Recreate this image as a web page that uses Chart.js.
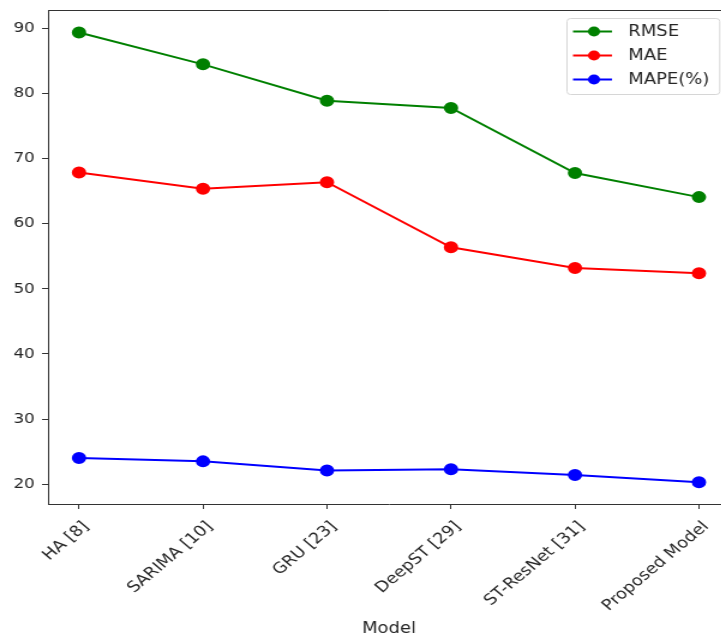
<!DOCTYPE html>
<html>
<head>
<meta charset="utf-8">
<script src="https://cdn.jsdelivr.net/npm/chart.js@4.4.1/dist/chart.umd.min.js"></script>
<style>
  html, body { margin: 0; padding: 0; background: #fff; overflow: hidden; }
  /* the figure is drawn narrow and widened to the page */
  #wrap { width: 617px; height: 639px; transform: scaleX(1.2); transform-origin: 0 0; }
</style>
</head>
<body>
<div id="wrap"><canvas id="lineChart" width="617" height="639"></canvas></div>
<script>
const models = ['HA [8]', 'SARIMA [10]', 'GRU [23]', 'DeepST [29]', 'ST-ResNet [31]', 'Proposed Model'];
const rmse = [89.4, 84.5, 78.9, 77.8, 67.8, 64.1];
const mae  = [67.9, 65.4, 66.4, 56.4, 53.2, 52.4];
const mape = [24.0, 23.5, 22.1, 22.3, 21.4, 20.3];
const yTicks = [20, 30, 40, 50, 60, 70, 80, 90];

const FONT = 'DejaVu Sans';
const INK = '#262626';

function points(values) {
  return values.map((v, i) => ({ x: i, y: v }));
}

function series(label, values, color) {
  return {
    label: label,
    data: points(values),
    borderColor: color,
    backgroundColor: color,
    pointBackgroundColor: color,
    pointBorderColor: color,
    borderWidth: 2,
    pointRadius: 5,
    pointHoverRadius: 5,
    tension: 0
  };
}

// top/right spines and the framed legend in the upper right corner
const frameAndLegend = {
  id: 'frameAndLegend',
  afterDraw(chart) {
    const { ctx, chartArea: { top, right, left, bottom } } = chart;
    ctx.save();
    ctx.strokeStyle = '#333';
    ctx.lineWidth = 1;
    ctx.beginPath();
    ctx.moveTo(left, top + 0.5);
    ctx.lineTo(right, top + 0.5);
    ctx.moveTo(right - 0.5, top);
    ctx.lineTo(right - 0.5, bottom);
    ctx.stroke();

    const sets = chart.data.datasets;
    const boxL = 472.5, boxT = top + 8, boxR = right - 8.5, boxB = boxT + 76;
    ctx.fillStyle = 'rgba(255,255,255,0.8)';
    ctx.strokeStyle = '#d6d6d6';
    ctx.beginPath();
    ctx.roundRect(boxL, boxT + 0.5, boxR - boxL, boxB - boxT, 3);
    ctx.fill();
    ctx.stroke();

    ctx.font = '15px ' + FONT;
    ctx.textBaseline = 'middle';
    ctx.textAlign = 'left';
    sets.forEach((ds, i) => {
      const y = boxT + 13.5 + i * 24;
      ctx.strokeStyle = ds.borderColor;
      ctx.lineWidth = 2;
      ctx.beginPath();
      ctx.moveTo(boxL + 5, y);
      ctx.lineTo(boxL + 37.5, y);
      ctx.stroke();
      ctx.fillStyle = ds.borderColor;
      ctx.beginPath();
      ctx.arc(boxL + 22.5, y, 5, 0, Math.PI * 2);
      ctx.fill();
      ctx.fillStyle = INK;
      ctx.fillText(ds.label, boxL + 51, y + 1);
    });
    ctx.restore();
  }
};

const config = {
  type: 'line',
  data: {
    datasets: [
      series('RMSE', rmse, '#008000'),
      series('MAE', mae, '#ff0000'),
      series('MAPE(%)', mape, '#0000ff')
    ]
  },
  options: {
    responsive: false,
    animation: false,
    devicePixelRatio: 1,
    layout: { padding: { left: 0, right: 8.7, top: 10, bottom: 0 } },
    plugins: {
      legend: { display: false },
      tooltip: { enabled: false }
    },
    scales: {
      x: {
        type: 'linear',
        min: -0.25,
        max: 5.25,
        afterBuildTicks: (scale) => { scale.ticks = models.map((m, i) => ({ value: i })); },
        afterFit: (scale) => {
          scale.height = 135;
          scale.paddingLeft = 0;
          scale.paddingRight = 0;
        },
        grid: { drawOnChartArea: false, drawTicks: true, tickLength: 5, color: '#333' },
        border: { display: true, color: '#333', width: 1 },
        ticks: {
          autoSkip: false,
          minRotation: 45,
          maxRotation: 45,
          padding: 9,
          labelOffset: 6,
          color: INK,
          font: { family: FONT, size: 15 },
          callback: (v) => models[v]
        },
        title: {
          display: true,
          text: 'Model',
          color: INK,
          font: { family: FONT, size: 15 },
          padding: { top: 4, bottom: 1 }
        }
      },
      y: {
        min: 16.95,
        max: 92.85,
        afterBuildTicks: (scale) => { scale.ticks = yTicks.map(v => ({ value: v })); },
        afterFit: (scale) => {
          scale.width = 40;
          scale.paddingTop = 0;
          scale.paddingBottom = 0;
        },
        grid: { drawOnChartArea: false, drawTicks: true, tickLength: 5, color: '#333' },
        border: { display: true, color: '#333', width: 1 },
        ticks: {
          padding: 6,
          color: INK,
          font: { family: FONT, size: 14 }
        }
      }
    }
  },
  plugins: [frameAndLegend]
};

var lineChart = new Chart(document.getElementById('lineChart').getContext('2d'), config);
</script>
</body>
</html>
